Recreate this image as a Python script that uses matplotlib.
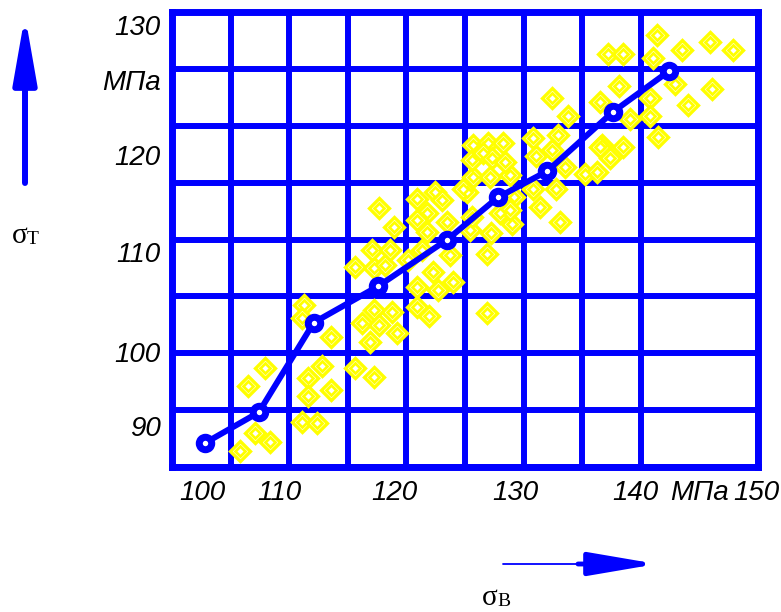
import matplotlib
matplotlib.use('Agg')
import matplotlib.pyplot as plt
import numpy as np

# mean line, sigma_B vs sigma_T (MPa)
line_x = [102.8, 107.4, 112.1, 117.6, 123.5, 127.8, 132.0, 137.6, 142.4]
line_y = [92.1, 94.8, 102.7, 105.9, 110.0, 113.7, 116.0, 121.2, 124.8]

# individual measurements
pts_x = [105.8, 107.1, 108.4, 106.5, 107.9, 111.1, 112.4, 111.6, 112.8, 111.6,
         113.6, 113.6, 111.3, 111.1, 115.6, 117.2, 116.2, 117.2, 117.7, 116.9,
         118.8, 119.2, 115.6, 117.2, 118.2, 117.1, 118.6, 117.7, 118.9, 120.1,
         121.3, 120.9, 122.4, 123.0, 121.8, 120.9, 121.8, 123.5, 123.7, 122.3,
         120.9, 122.7, 124.0, 120.9, 121.9, 126.9, 126.9, 125.4, 125.6, 127.2,
         125.2, 125.7, 127.1, 128.8, 129.2, 128.0, 129.0, 130.8, 125.7, 127.0,
         128.2, 125.6, 126.5, 127.3, 128.4, 124.8, 128.8, 130.8, 132.9, 132.4,
         131.1, 133.5, 132.8, 131.4, 133.1, 135.2, 136.3, 136.7, 137.4, 132.4,
         133.8, 137.2, 138.5, 141.4, 141.0, 143.5, 145.9, 147.9, 142.9, 146.1,
         144.0, 138.1, 136.5, 140.8, 139.1, 140.8, 141.5, 138.5, 136.5]
pts_y = [91.4, 93.0, 92.2, 97.1, 98.7, 94.0, 93.9, 97.8, 98.9, 96.2,
         96.8, 101.4, 104.2, 103.1, 98.7, 97.9, 102.7, 103.8, 102.5, 101.0,
         103.6, 101.8, 107.6, 107.5, 107.8, 109.1, 109.1, 112.8, 111.1, 108.2,
         109.1, 113.6, 114.2, 113.5, 112.3, 111.7, 110.7, 111.5, 108.6, 107.1,
         105.8, 105.6, 106.3, 104.1, 103.3, 103.5, 108.7, 110.8, 112.0, 110.6,
         114.2, 115.5, 115.5, 115.7, 113.7, 112.3, 111.4, 114.4, 118.3, 118.5,
         118.5, 117.0, 117.6, 117.2, 116.8, 114.4, 112.6, 118.9, 119.2, 117.9,
         117.3, 116.4, 114.4, 112.9, 111.5, 115.8, 115.9, 118.3, 117.2, 122.4,
         120.9, 126.3, 126.3, 128.0, 126.0, 126.7, 127.4, 126.7, 123.7, 123.2,
         121.8, 123.5, 122.1, 122.4, 120.6, 120.9, 119.0, 118.1, 118.1]

x_ticks = [102.6, 109.2, 119.0, 129.3, 139.5, 145.0, 149.9]
x_labels = ['100', '110', '120', '130', '140', 'МПа', '150']
y_ticks = [128.9, 124.0, 117.4, 108.9, 100.1, 93.6]
y_labels = ['130', 'МПа', '120', '110', '100', '90']

blue = '#0000FF'
yellow = '#FFFF00'
W, H = 781, 612

fig = plt.figure(figsize=(W / 100, H / 100), dpi=100)
ax = fig.add_axes([172 / W, 1 - 467 / H, 586 / W, 455 / H])

ax.set_xlim(100, 150)
ax.set_ylim(90, 130)
ax.set_xticks(np.arange(100, 151, 5), minor=True)
ax.set_yticks(np.arange(90, 131, 5), minor=True)
ax.grid(which='minor', color=blue, lw=4.3, zorder=1)
ax.grid(which='major', visible=False)
ax.set_axisbelow(True)
for s in ax.spines.values():
    s.set_color(blue)
    s.set_linewidth(5)

lab_font = dict(family='Liberation Sans', style='italic', size=20)
ax.set_xticks(x_ticks, x_labels, **lab_font)
ax.set_yticks(y_ticks, y_labels, **lab_font)
ax.tick_params(which='both', length=0)
ax.tick_params(axis='x', pad=9)
ax.tick_params(axis='y', pad=8)

# measurements: double diamonds
ax.plot(pts_x, pts_y, 'D', ms=10.5, mfc='white', mec=yellow, mew=2.4, zorder=2)
ax.plot(pts_x, pts_y, 'D', ms=5, mfc='white', mec=yellow, mew=2, zorder=2)

# mean line
ax.plot(line_x, line_y, '-', color=blue, lw=4.3, zorder=3)
ax.plot(line_x, line_y, 'o', ms=9, mfc='white', mec=blue, mew=5, zorder=4)

# axis arrows
ax.annotate('', xy=(25, H - 15), xytext=(25, H - 183), xycoords='figure pixels',
            arrowprops=dict(arrowstyle='-|>,head_length=4.0,head_width=0.7',
                            color=blue, lw=4.3, shrinkA=0, shrinkB=0,
                            mutation_scale=10), annotation_clip=False)
ax.annotate('', xy=(592, H - 564), xytext=(503, H - 564), xycoords='figure pixels',
            arrowprops=dict(arrowstyle='-', color=blue, lw=1.3,
                            shrinkA=0, shrinkB=0), annotation_clip=False)
ax.annotate('', xy=(657, H - 564), xytext=(578, H - 564), xycoords='figure pixels',
            arrowprops=dict(arrowstyle='-|>,head_length=4.1,head_width=0.7',
                            color=blue, lw=3.5, shrinkA=0, shrinkB=0,
                            mutation_scale=10), annotation_clip=False)

serif = 'Liberation Serif'
fig.text(12 / W, 1 - 243 / H, 'σ', fontsize=21, family=serif, va='baseline')
fig.text(27 / W, 1 - 244 / H, 'T', fontsize=14, family=serif, va='baseline')
fig.text(482 / W, 1 - 605 / H, 'σ', fontsize=21, family=serif, va='baseline')
fig.text(497 / W, 1 - 606 / H, 'B', fontsize=14, family=serif, va='baseline')

fig.savefig('out.png', dpi=100)
